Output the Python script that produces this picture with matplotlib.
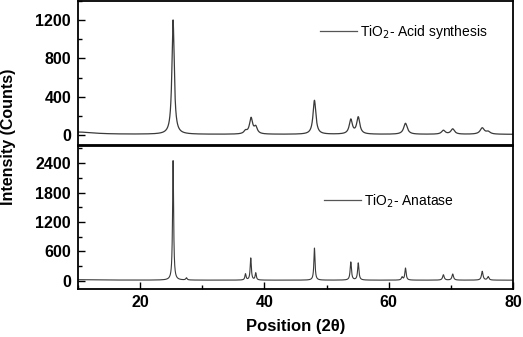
import numpy as np
import matplotlib
matplotlib.use("Agg")
import matplotlib.pyplot as plt
from matplotlib.ticker import MultipleLocator

# ---- data ----
# Acid synthesis TiO2 : peak positions (2theta), heights (counts), FWHM (deg)
acid_pos = [10.0, 25.3, 36.95, 37.85, 38.6, 48.05, 53.9, 55.1, 62.7, 68.8, 70.3, 75.05, 76.0]
acid_hgt = [24, 1195, 30, 165, 70, 355, 150, 175, 115, 40, 55, 65, 25]
acid_fwhm = [6.0, 0.45, 0.6, 0.6, 0.6, 0.55, 0.6, 0.6, 0.7, 0.7, 0.7, 0.8, 0.8]
acid_base = 6

# Anatase reference TiO2
ana_pos = [10.0, 25.3, 27.45, 36.95, 37.8, 38.6, 48.05, 53.9, 55.1, 62.15, 62.7, 68.8, 70.3, 75.05, 76.0]
ana_hgt = [10, 2440, 45, 125, 450, 145, 655, 370, 350, 60, 245, 110, 125, 180, 70]
ana_fwhm = [8.0, 0.2, 0.25, 0.22, 0.22, 0.22, 0.22, 0.25, 0.25, 0.25, 0.25, 0.3, 0.3, 0.3, 0.3]
ana_base = 10

xlim = (10, 80)
top_ylim = (-100, 1400)
bot_ylim = (-160, 2750)
top_ticks = [0, 400, 800, 1200]
bot_ticks = [0, 600, 1200, 1800, 2400]


def pattern(x, pos, hgt, fwhm, base):
    y = np.full_like(x, float(base))
    for p, h, w in zip(pos, hgt, fwhm):
        g = (w / 2) ** 2
        y += h * g / ((x - p) ** 2 + g)
    return y


x = np.linspace(xlim[0], xlim[1], 7001)
y_acid = pattern(x, acid_pos, acid_hgt, acid_fwhm, acid_base)
y_ana = pattern(x, ana_pos, ana_hgt, ana_fwhm, ana_base)

plt.rcParams['font.family'] = ['Liberation Sans', 'DejaVu Sans']

fig = plt.figure(figsize=(5.23, 3.37), dpi=100)
left, right = 78 / 523, 513 / 523
ax1 = fig.add_axes([left, 1 - 144.5 / 337, right - left, 143.5 / 337])
ax2 = fig.add_axes([left, 1 - 288.5 / 337, right - left, 142.5 / 337])

line_col = '#3a3a3a'
ax1.plot(x, y_acid, color=line_col, lw=0.9, label=r'TiO$_2$- Acid synthesis')
ax2.plot(x, y_ana, color=line_col, lw=0.8, label=r'TiO$_2$- Anatase')

ax1.set_xlim(*xlim)
ax2.set_xlim(*xlim)
ax1.set_ylim(*top_ylim)
ax2.set_ylim(*bot_ylim)
ax1.set_yticks(top_ticks)
ax2.set_yticks(bot_ticks)
ax1.yaxis.set_minor_locator(MultipleLocator(200))
ax2.yaxis.set_minor_locator(MultipleLocator(300))
ax2.set_xticks([20, 40, 60, 80])
ax2.xaxis.set_minor_locator(MultipleLocator(10))
ax1.set_xticks([])

for ax in (ax1, ax2):
    for s in ax.spines.values():
        s.set_linewidth(1.3)
    ax.tick_params(which='both', direction='in', top=False, right=False, width=1.0)
    ax.tick_params(which='major', length=5, labelsize=11.5, pad=5)
    ax.tick_params(which='minor', length=3)
    for lab in ax.get_yticklabels() + ax.get_xticklabels():
        lab.set_fontweight('bold')

ax1.tick_params(axis='x', which='both', bottom=False, labelbottom=False)

ax2.set_xlabel('Position (2θ)', fontsize=12, fontweight='bold', labelpad=6)
fig.text(9 / 523, 1 - 137 / 337, 'Intensity (Counts)', rotation=90, fontsize=11.5,
         fontweight='bold', ha='center', va='center')

leg_kw = dict(loc='center left', frameon=False, fontsize=10, handlelength=2.65,
              handletextpad=0.25, borderpad=0, borderaxespad=0)
leg1 = ax1.legend(bbox_to_anchor=(0.556, 0.784), **leg_kw)
leg2 = ax2.legend(bbox_to_anchor=(0.566, 0.614), **leg_kw)
for leg in (leg1, leg2):
    for l in leg.get_lines():
        l.set_color('#555555')
        l.set_linewidth(0.9)

fig.savefig('out.png', dpi=100)
